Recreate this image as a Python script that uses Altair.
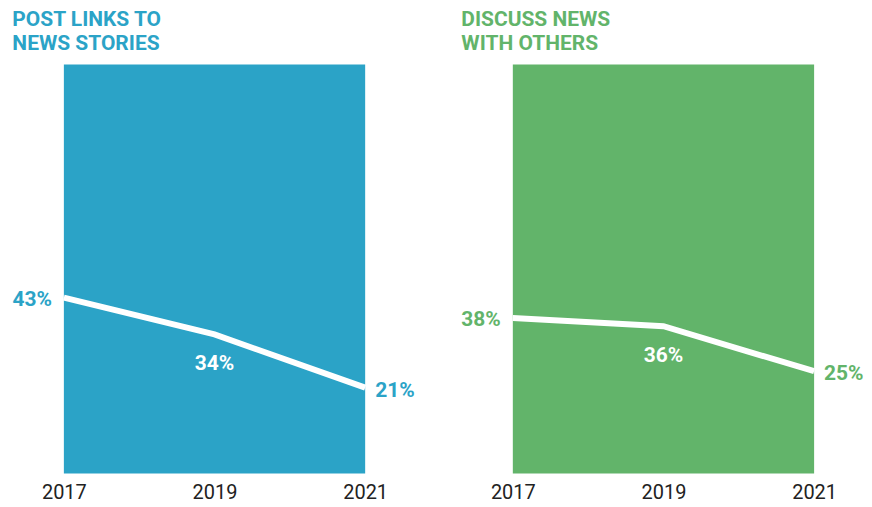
import altair as alt
import pandas as pd

years = ["2017", "2019", "2021"]
post_links = [43, 34, 21]
discuss_news = [38, 36, 25]
titles = [["POST LINKS TO", "NEWS STORIES"], ["DISCUSS NEWS", "WITH OTHERS"]]
colors = ["#2BA3C7", "#62B46A"]

FONT = "Roboto"


def panel(values, title, color):
    df = pd.DataFrame({"year": years, "value": values,
                       "label": [f"{v}%" for v in values]})
    x = alt.X("year:O", scale=alt.Scale(type="point", padding=0),
              axis=alt.Axis(title=None, labelAngle=0, domain=False, ticks=False,
                            labelPadding=9, labelFontSize=20, labelFont=FONT,
                            labelColor="#222222", labelFontWeight="normal"))
    y = alt.Y("value:Q", scale=alt.Scale(domain=[0, 100], nice=False), axis=None)
    base = alt.Chart(df).encode(x=x, y=y)
    line = base.mark_line(color="white", strokeWidth=6, strokeCap="butt", strokeJoin="miter")
    first = base.transform_filter(alt.datum.year == years[0]).mark_text(
        align="right", baseline="middle", dx=-12, dy=2, fontSize=21,
        fontWeight="bold", font=FONT, color=color).encode(text="label:N")
    mid = base.transform_filter(alt.datum.year == years[1]).mark_text(
        align="center", baseline="middle", dy=30, fontSize=21,
        fontWeight="bold", font=FONT, color="white").encode(text="label:N")
    last = base.transform_filter(alt.datum.year == years[2]).mark_text(
        align="left", baseline="middle", dx=10, dy=3, fontSize=21,
        fontWeight="bold", font=FONT, color=color).encode(text="label:N")
    return alt.layer(line, first, mid, last).properties(
        width=302, height=410,
        view=alt.ViewBackground(fill=color, stroke=None),
        title=alt.TitleParams(text=title, anchor="start", color=color, fontSize=21,
                              font=FONT, fontWeight="bold", lineHeight=25, offset=10),
    )


chart = alt.hconcat(
    panel(post_links, titles[0], colors[0]),
    panel(discuss_news, titles[1], colors[1]),
    spacing=148, bounds="flush",
).properties(
    padding={"left": 4, "top": 0, "right": 0, "bottom": 0},
).configure_view(stroke=None)

chart.save("out.html", embed_options={"renderer": "svg", "actions": False})
